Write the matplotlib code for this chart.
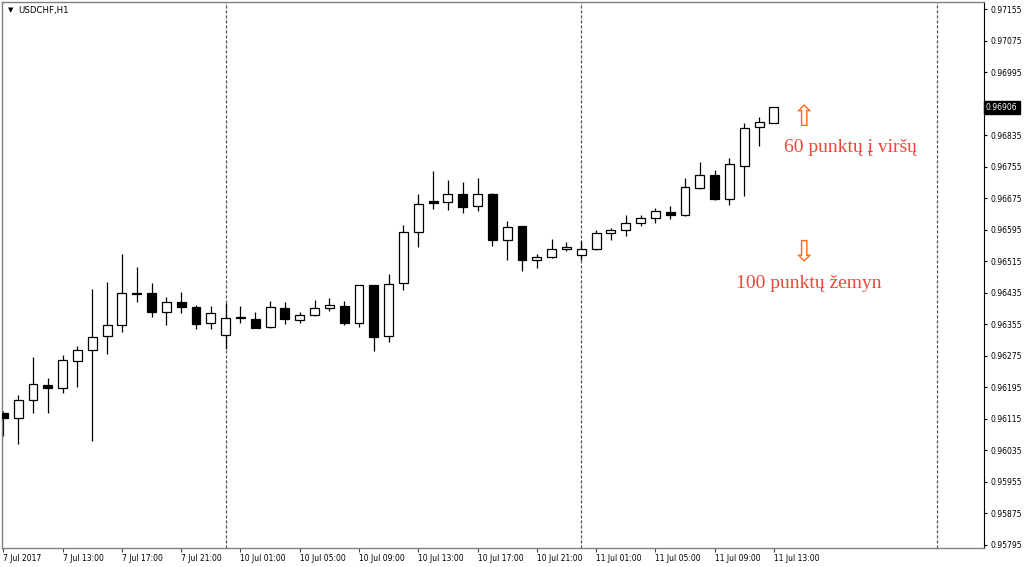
import numpy as np
import matplotlib
matplotlib.use("Agg")
import matplotlib.pyplot as plt

# ===================== 数据：USDCHF H1 蜡烛 =====================
opens = [0.96130, 0.96117, 0.96162, 0.96200, 0.96193, 0.96263, 0.96290, 0.96325, 0.96353, 0.96435,
         0.96434, 0.96386, 0.96413, 0.96398, 0.96358, 0.96329, 0.96373, 0.96368, 0.96349, 0.96396,
         0.96367, 0.96378, 0.96397, 0.96401, 0.96359, 0.96454, 0.96325, 0.96459, 0.96589, 0.96667,
         0.96666, 0.96686, 0.96656, 0.96687, 0.96569, 0.96604, 0.96518, 0.96525, 0.96546, 0.96530,
         0.96546, 0.96586, 0.96594, 0.96612, 0.96624, 0.96640, 0.96633, 0.96701, 0.96735, 0.96673,
         0.96757, 0.96857, 0.96866]
highs = [0.96135, 0.96176, 0.96271, 0.96218, 0.96277, 0.96300, 0.96444, 0.96462, 0.96533, 0.96500,
         0.96459, 0.96424, 0.96437, 0.96403, 0.96401, 0.96410, 0.96402, 0.96387, 0.96414, 0.96411,
         0.96386, 0.96416, 0.96423, 0.96414, 0.96454, 0.96454, 0.96482, 0.96608, 0.96687, 0.96744,
         0.96722, 0.96717, 0.96727, 0.96688, 0.96617, 0.96604, 0.96533, 0.96571, 0.96564, 0.96566,
         0.96594, 0.96600, 0.96632, 0.96632, 0.96650, 0.96656, 0.96727, 0.96767, 0.96747, 0.96777,
         0.96866, 0.96882, 0.96906]
lows = [0.96072, 0.96051, 0.96131, 0.96129, 0.96180, 0.96197, 0.96060, 0.96279, 0.96336, 0.96411,
        0.96373, 0.96354, 0.96383, 0.96343, 0.96344, 0.96292, 0.96359, 0.96345, 0.96345, 0.96355,
        0.96358, 0.96377, 0.96390, 0.96353, 0.96348, 0.96288, 0.96311, 0.96442, 0.96552, 0.96649,
        0.96646, 0.96637, 0.96642, 0.96553, 0.96518, 0.96490, 0.96499, 0.96524, 0.96542, 0.96518,
        0.96545, 0.96569, 0.96579, 0.96605, 0.96612, 0.96622, 0.96631, 0.96699, 0.96672, 0.96659,
        0.96682, 0.96807, 0.96866]
closes = [0.96117, 0.96162, 0.96203, 0.96193, 0.96264, 0.96290, 0.96323, 0.96353, 0.96434, 0.96431,
          0.96386, 0.96412, 0.96400, 0.96355, 0.96385, 0.96372, 0.96370, 0.96346, 0.96398, 0.96368,
          0.96380, 0.96396, 0.96403, 0.96359, 0.96454, 0.96322, 0.96458, 0.96589, 0.96660, 0.96664,
          0.96686, 0.96654, 0.96686, 0.96569, 0.96601, 0.96518, 0.96525, 0.96547, 0.96551, 0.96547,
          0.96586, 0.96594, 0.96612, 0.96624, 0.96644, 0.96633, 0.96703, 0.96735, 0.96673, 0.96761,
          0.96853, 0.96868, 0.96906]

tick_idx = [0, 4, 8, 12, 16, 20, 24, 28, 32, 36, 40, 44, 48, 52]
tick_labels = ["7 Jul 2017", "7 Jul 13:00", "7 Jul 17:00", "7 Jul 21:00",
               "10 Jul 01:00", "10 Jul 05:00", "10 Jul 09:00", "10 Jul 13:00",
               "10 Jul 17:00", "10 Jul 21:00", "11 Jul 01:00", "11 Jul 05:00",
               "11 Jul 09:00", "11 Jul 13:00"]
day_starts = [15, 39, 63]   # 期间分隔线（每天 00:00）
last_price = 0.96906

# ===================== 画布 =====================
fig = plt.figure(figsize=(10.24, 5.67), dpi=100)
ax = fig.add_axes([2.3 / 1024, 1 - 548 / 567, (984 - 2.3) / 1024, 546 / 567])
ax.set_facecolor("white")

x = np.arange(len(opens))
o = np.array(opens)
c = np.array(closes)
up = c >= o

# 影线
ax.vlines(x, lows, highs, color="black", lw=0.9, zorder=2)
# 实体
bottoms = np.minimum(o, c)
heights = np.abs(c - o)
ax.bar(x, heights, bottom=bottoms, width=0.6,
       color=np.where(up, "white", "black"), edgecolor="black", lw=0.9, zorder=3)

for d in day_starts:
    ax.axvline(d, color="#555555", lw=0.9, ls=(0, (2.5, 1.5)), zorder=1)

ax.set_xlim(-0.07, 66.18)
ax.set_ylim(0.957872, 0.971735)

# x 轴
ax.set_xticks(tick_idx)
ax.set_xticklabels(tick_labels, fontsize=5.5, ha="left")
ax.tick_params(axis="x", length=3, width=0.8, pad=1, color="#444444")

# y 轴放右边（0.96915 被当前价格标签盖住）
yt = np.round(np.arange(0.95795, 0.97156, 0.0008), 5)
ax.yaxis.tick_right()
ax.set_yticks(yt)
ax.set_yticklabels(["" if abs(v - 0.96915) < 1e-7 else "%.5f" % v for v in yt], fontsize=5.5)
ax.tick_params(axis="y", length=2.5, width=0.8, pad=2)

for s in ["left", "top", "bottom"]:
    ax.spines[s].set_color("#808080")
    ax.spines[s].set_linewidth(1.0)
ax.spines["right"].set_color("black")
ax.spines["right"].set_linewidth(0.8)

# 当前价格标签
ax.text(1.002, last_price, "0.96906", transform=ax.get_yaxis_transform(),
        ha="left", va="center", fontsize=5.5, color="white", zorder=10, clip_on=False,
        bbox=dict(boxstyle="square,pad=0.3", fc="black", ec="black"))

# 标题
ax.text(0.006, 0.985, "▼", transform=ax.transAxes, fontsize=5, va="center", ha="left")
ax.text(0.016, 0.985, "USDCHF,H1", transform=ax.transAxes, fontsize=6.2, va="center", ha="left")

# 注释
arrow_col = "#ff6a1a"
text_col = "#f0463a"
ax.text(54.0, 0.96880, "⇧", fontsize=21, color=arrow_col, ha="center", va="center")
ax.text(57.2, 0.96805, "60 punktų į viršų", family="Liberation Serif", fontsize=14,
        color=text_col, ha="center", va="center")
ax.text(54.0, 0.96538, "⇩", fontsize=21, color=arrow_col, ha="center", va="center")
ax.text(54.35, 0.96460, "100 punktų žemyn", family="Liberation Serif", fontsize=14,
        color=text_col, ha="center", va="center")

fig.savefig("out.png", dpi=100, facecolor="white")
